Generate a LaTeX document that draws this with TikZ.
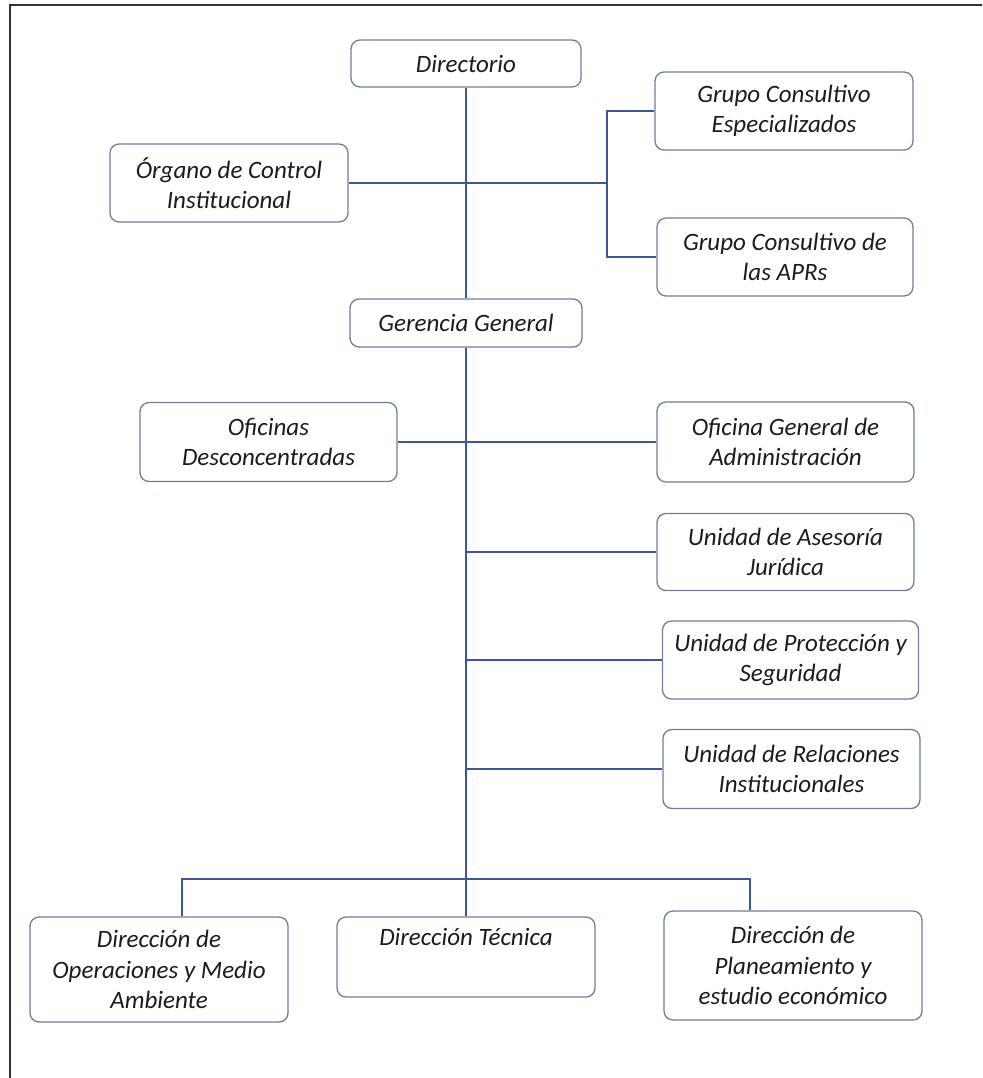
\documentclass[tikz,border=0pt]{standalone}
\usepackage{fontspec}
\setmainfont{Carlito}
\definecolor{boxc}{RGB}{112,126,158}
\definecolor{linec}{RGB}{58,88,150}
\definecolor{txt}{RGB}{28,28,28}
\definecolor{framec}{RGB}{50,50,50}
\begin{document}
\begin{tikzpicture}[x=1pt,y=-1pt,
  box/.style={draw=boxc, line width=1.3pt, rounded corners=9pt, fill=white,
    align=center, font=\fontsize{25}{30.5}\selectfont\itshape, text=txt,
    inner sep=1pt},
  link/.style={draw=linec, line width=1.2pt},
  frame/.style={draw=framec, line width=2.2pt}]
\useasboundingbox (0,0) rectangle (982,1078);
\draw[frame] (982,5) -- (10,5) -- (10,1078);

\node[box, minimum width=230, minimum height=47] (dir) at (466,63.5) {Directorio};
\node[box, minimum width=238, minimum height=78] (oci) at (229,183) {Órgano de Control\\Institucional};
\node[box, minimum width=258, minimum height=78] (gce) at (784,111) {Grupo Consultivo\\Especializados};
\node[box, minimum width=256, minimum height=78] (gca) at (785,257) {Grupo Consultivo de\\las APRs};
\node[box, minimum width=232, minimum height=48] (gg) at (466,323) {Gerencia General};
\node[box, minimum width=257, minimum height=79] (ofd) at (268.5,442) {Oficinas\\Desconcentradas};
\node[box, minimum width=257, minimum height=80] (oga) at (785.5,442) {Oficina General de\\Administración};
\node[box, minimum width=257, minimum height=77] (uaj) at (785.5,552) {Unidad de Asesoría\\Jurídica};
\node[box, minimum width=256, minimum height=78] (ups) at (790.5,660) {Unidad de Protección y\\Seguridad};
\node[box, minimum width=257, minimum height=79] (uri) at (791.5,769) {Unidad de Relaciones\\Institucionales};
\node[box, minimum width=258, minimum height=105] (op) at (159,969.5) {Dirección de\\Operaciones y Medio\\Ambiente};
\node[box, minimum width=258, minimum height=80] (tec) at (466,957) {Dirección Técnica\\\strut};
\node[box, minimum width=258, minimum height=109] (plan) at (793,965.5) {Dirección de\\Planeamiento y\\estudio económico};

\coordinate (jt) at (607,111);
\coordinate (jm) at (607,183);
\coordinate (jb) at (607,257);
\coordinate (bl) at (182,879);
\coordinate (br) at (750,879);

% trunk
\draw[link] (dir.south) -- (gg.north);
\draw[link] (gg.south) -- (tec.north);
% upper branches
\draw[link] (oci.east) -- (jm);
\draw[link] (gce.west) -- (jt) -- (jb) -- (gca.west);
% middle branches
\draw[link] (ofd.east) -- (oga.west);
\draw[link] (uaj.west) -- (uaj.west -| gg.south);
\draw[link] (ups.west) -- (ups.west -| gg.south);
\draw[link] (uri.west) -- (uri.west -| gg.south);
% bottom bus
\draw[link] (bl |- op.north) -- (bl) -- (br) -- (br |- plan.north);
\end{tikzpicture}
\end{document}
